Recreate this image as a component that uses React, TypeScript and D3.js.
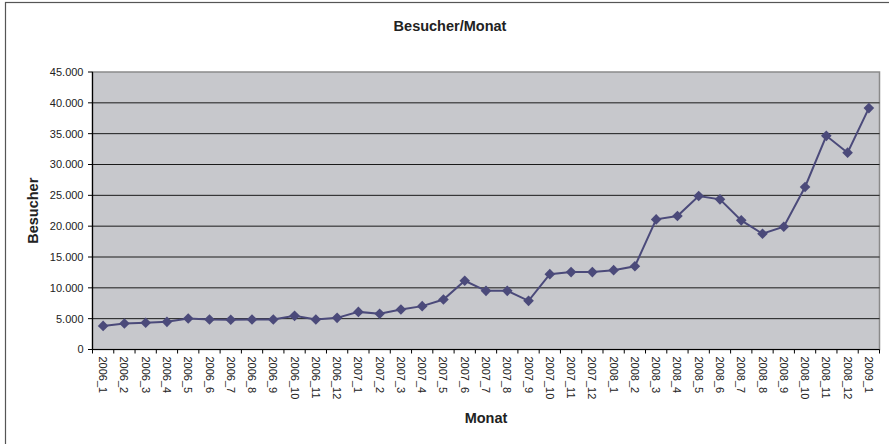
import React from "react";
import * as d3 from "d3";

const categories: string[] = [
  "2006_1", "2006_2", "2006_3", "2006_4", "2006_5", "2006_6", "2006_7", "2006_8", "2006_9", "2006_10", "2006_11", "2006_12",
  "2007_1", "2007_2", "2007_3", "2007_4", "2007_5", "2007_6", "2007_7", "2007_8", "2007_9", "2007_10", "2007_11", "2007_12",
  "2008_1", "2008_2", "2008_3", "2008_4", "2008_5", "2008_6", "2008_7", "2008_8", "2008_9", "2008_10", "2008_11", "2008_12",
  "2009_1",
];

const besucher: number[] = [
  3830, 4220, 4330, 4490, 5030, 4870, 4820, 4870, 4870, 5460, 4870, 5130,
  6100, 5800, 6490, 7030, 8110, 11140, 9510, 9510, 7890, 12220, 12550, 12550,
  12870, 13500, 21100, 21640, 24900, 24350, 20940, 18770, 19900, 26350, 34650, 31920,
  39150,
];

const yTicks: number[] = [0, 5000, 10000, 15000, 20000, 25000, 30000, 35000, 40000, 45000];

const title = "Besucher/Monat";
const yTitle = "Besucher";
const xTitle = "Monat";

const W = 889;
const H = 444;
const left = 92.5;
const right = 879.5;
const top = 72;
const bottom = 349.5;

const fmt = (v: number) => (v === 0 ? "0" : d3.format(",")(v).replace(/,/g, "."));

export default function App() {
  const x = d3.scaleBand<string>().domain(categories).range([left, right]).padding(0);
  const y = d3.scaleLinear().domain([0, 45000]).range([bottom, top]);
  const cx = (c: string) => (x(c) as number) + x.bandwidth() / 2;

  const line = d3
    .line<number>()
    .x((_, i) => cx(categories[i]))
    .y((d) => y(d));

  const font = "'Liberation Sans', Arial, sans-serif";
  const lineColor = "#4b4a7a";
  const diamond = d3.symbol().type(d3.symbolDiamond2).size(72)();

  return (
    <svg
      width={W}
      height={H}
      style={{ position: "absolute", left: 0, top: 0, display: "block", background: "#fff" }}
      fontFamily={font}
    >
      {/* outer chart border */}
      <rect x={5.5} y={2.5} width={W + 10} height={H + 10} fill="#fff" stroke="#555" strokeWidth={1.2} />

      {/* plot area */}
      <rect x={left} y={top} width={right - left} height={bottom - top} fill="#c7c8cc" stroke="#8a8a8a" strokeWidth={1.5} />

      {/* gridlines */}
      {yTicks.filter((t) => t > 0 && t < 45000).map((t) => (
        <line key={"g" + t} x1={left} x2={right} y1={y(t)} y2={y(t)} stroke="#1a1a1a" strokeWidth={1} />
      ))}

      {/* axes */}
      <line x1={left} x2={left} y1={top} y2={bottom} stroke="#000" strokeWidth={1.2} />
      <line x1={left} x2={right} y1={bottom} y2={bottom} stroke="#000" strokeWidth={1.2} />

      {/* y ticks and labels */}
      {yTicks.map((t) => (
        <g key={"y" + t}>
          <line x1={left - 4.5} x2={left} y1={y(t)} y2={y(t)} stroke="#000" strokeWidth={1} />
          <text x={83.5} y={y(t)} dy="0.36em" textAnchor="end" fontSize={11} fill="#222">
            {fmt(t)}
          </text>
        </g>
      ))}

      {/* x ticks at category boundaries */}
      {categories.map((c) => (
        <line key={"xt" + c} x1={x(c) as number} x2={x(c) as number} y1={bottom} y2={bottom + 4} stroke="#000" strokeWidth={1} />
      ))}
      <line x1={right} x2={right} y1={bottom} y2={bottom + 4} stroke="#000" strokeWidth={1} />

      {/* x labels */}
      {categories.map((c) => (
        <text
          key={"xl" + c}
          transform={`translate(${cx(c)},${356.5}) rotate(90)`}
          dy="0.36em"
          textAnchor="start"
          fontSize={11}
          fill="#222"
        >
          {c}
        </text>
      ))}

      {/* series */}
      <path d={line(besucher) || ""} fill="none" stroke={lineColor} strokeWidth={2} />
      {besucher.map((v, i) => (
        <path key={"m" + i} d={diamond || ""} transform={`translate(${cx(categories[i])},${y(v)})`} fill={lineColor} />
      ))}

      {/* titles */}
      <text x={450} y={30.5} textAnchor="middle" fontSize={14.5} fontWeight="bold" fill="#222">
        {title}
      </text>
      <text transform={`translate(37.5,${(top + bottom) / 2}) rotate(-90)`} textAnchor="middle" fontSize={14.5} fontWeight="bold" fill="#222">
        {yTitle}
      </text>
      <text x={(left + right) / 2} y={422.5} textAnchor="middle" fontSize={14.5} fontWeight="bold" fill="#222">
        {xTitle}
      </text>
    </svg>
  );
}
